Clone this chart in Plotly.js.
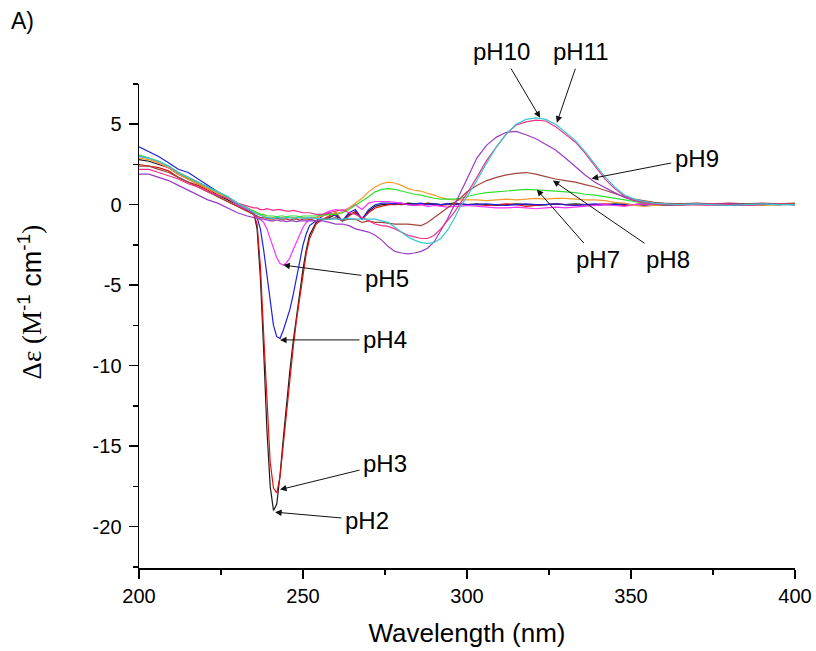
<!DOCTYPE html>
<html>
<head>
<meta charset="utf-8">
<script src="https://cdn.plot.ly/plotly-3.0.1.min.js"></script>
<style>html,body{margin:0;padding:0;background:#fff;}#chart{width:816px;height:651px;}</style>
</head>
<body>
<div id="chart"></div>
<script>
// Wavelength grid (nm)
const wavelength = [200,203,206,209,212,215,218,221,224,227,230,233,
  235,236,237,238,239,240,241,242,243,244,245,246,247,248,249,250,251,252,
  254,256,258,260,262,264,266,268,270,272,274,276,278,280,282,284,286,288,290,292,294,296,298,300,
  303,306,309,312,315,318,321,324,327,330,333,336,339,342,345,348,351,354,357,360,
  365,370,375,380,385,390,395,400];

const pH2 = [2.8,2.7,2.5,2.3,1.9,1.6,1.3,1.0,0.6,0.3,0.0,-0.3,
  -0.5,-1.5,-4.5,-9.0,-14.0,-17.5,-19.0,-18.6,-16.8,-14.5,-12.3,-10.3,-8.5,-6.9,-5.4,-4.0,-2.8,-1.9,
  -1.1,-0.9,-0.8,-0.6,-1.0,-0.6,-0.5,-0.9,-0.4,-0.1,0.0,0.0,0.05,0.0,0.1,0.05,0.0,0.1,0.05,0.0,0.05,0.1,0.05,0.0,
  0.05,0.0,-0.05,0.0,0.05,0.0,-0.05,0.0,0.05,0.0,0.05,0.0,-0.05,0.0,0.05,0.0,0.0,0.05,0.0,-0.05,
  0.0,0.05,0.0,-0.05,0.05,0.0,0.05,0.0];

const pH3 = [2.5,2.4,2.3,2.1,1.7,1.4,1.2,0.9,0.5,0.2,-0.1,-0.4,
  -0.6,-1.2,-3.8,-8.0,-12.5,-16.0,-17.6,-17.9,-16.9,-14.9,-12.7,-10.7,-8.9,-7.2,-5.7,-4.3,-3.0,-2.1,
  -1.2,-0.9,-0.7,-0.5,-1.0,-0.7,-0.4,-0.9,-0.5,-0.2,-0.1,0.0,0.0,0.05,0.0,-0.05,0.0,0.05,0.0,-0.05,0.0,0.05,0.0,0.0,
  0.0,-0.05,0.0,0.05,0.0,-0.1,-0.05,0.0,0.05,0.0,-0.05,0.0,0.0,0.05,0.0,-0.05,0.0,0.05,0.0,0.0,
  0.05,0.0,-0.05,0.0,0.0,0.05,0.0,0.05];

const pH4 = [3.6,3.3,3.0,2.6,2.2,2.0,1.6,1.2,0.8,0.5,0.1,-0.3,
  -0.6,-0.8,-1.5,-2.8,-4.4,-6.1,-7.5,-8.2,-8.3,-7.8,-7.2,-6.5,-5.6,-4.6,-3.5,-2.5,-1.8,-1.3,
  -1.0,-0.7,-0.5,-0.7,-1.0,-0.5,-0.3,-0.9,-0.3,0.0,0.1,0.1,0.05,0.1,0.0,0.05,0.1,0.0,0.05,0.0,0.05,0.0,0.05,0.0,
  0.0,0.05,0.0,-0.05,0.0,0.05,0.0,0.0,0.05,0.0,-0.05,0.0,0.05,0.0,0.0,0.05,0.0,-0.05,0.0,0.05,
  0.0,0.05,0.0,0.0,-0.05,0.0,0.05,0.0];

const pH5 = [3.0,2.9,2.6,2.3,2.0,1.7,1.4,1.1,0.7,0.4,0.0,-0.3,
  -0.6,-0.8,-0.9,-1.1,-1.5,-2.1,-2.7,-3.3,-3.65,-3.75,-3.6,-3.3,-2.8,-2.3,-1.8,-1.4,-1.1,-0.9,
  -0.8,-0.6,-0.4,-0.3,-0.4,-0.2,0.0,-0.3,0.1,0.2,0.2,0.2,0.15,0.1,0.0,-0.05,0.0,-0.1,-0.05,-0.1,-0.15,-0.1,-0.1,-0.05,
  -0.1,-0.15,-0.2,-0.2,-0.15,-0.2,-0.25,-0.2,-0.15,-0.2,-0.15,-0.1,-0.05,0.0,-0.05,-0.1,0.0,0.05,0.0,0.0,
  0.05,0.0,-0.05,0.0,0.05,0.0,0.0,0.05];

const pH6 = [2.9,2.8,2.6,2.3,1.9,1.6,1.3,1.0,0.7,0.4,0.1,-0.2,
  -0.4,-0.5,-0.6,-0.7,-0.8,-0.8,-0.8,-0.85,-0.8,-0.8,-0.85,-0.8,-0.8,-0.85,-0.8,-0.8,-0.8,-0.8,
  -0.8,-0.7,-0.6,-0.5,-0.5,-0.2,0.1,0.4,0.8,1.1,1.3,1.4,1.35,1.2,1.0,0.9,0.85,0.7,0.6,0.45,0.35,0.3,0.3,0.3,
  0.3,0.25,0.3,0.35,0.3,0.35,0.4,0.35,0.4,0.4,0.35,0.3,0.3,0.25,0.15,0.1,-0.05,-0.1,-0.05,0.0,
  0.05,0.0,0.0,0.05,0.0,-0.05,0.0,0.05];

const pH7 = [3.1,2.9,2.7,2.4,2.0,1.7,1.4,1.1,0.8,0.5,0.1,-0.2,
  -0.4,-0.5,-0.6,-0.6,-0.7,-0.7,-0.7,-0.75,-0.7,-0.7,-0.75,-0.7,-0.7,-0.7,-0.75,-0.7,-0.7,-0.7,
  -0.7,-0.65,-0.6,-0.6,-0.5,-0.3,-0.05,0.2,0.5,0.8,0.95,1.0,0.95,0.85,0.75,0.65,0.6,0.5,0.4,0.35,0.35,0.35,0.4,0.5,
  0.65,0.75,0.8,0.85,0.9,0.95,0.92,0.9,0.85,0.8,0.75,0.65,0.6,0.5,0.4,0.3,0.2,0.1,0.05,0.0,
  0.0,0.05,0.0,0.0,0.05,0.0,0.0,0.05];

const pH8 = [2.4,2.4,2.2,2.0,1.7,1.4,1.1,0.8,0.5,0.2,-0.1,-0.4,
  -0.6,-0.7,-0.8,-0.8,-0.85,-0.9,-0.9,-0.85,-0.9,-0.9,-0.9,-0.95,-0.9,-0.9,-0.95,-0.9,-0.9,-0.9,
  -1.0,-0.9,-0.9,-0.8,-1.0,-0.9,-0.9,-1.1,-1.0,-1.1,-1.1,-1.15,-1.2,-1.2,-1.2,-1.25,-1.3,-1.1,-0.8,-0.5,-0.2,0.1,0.4,0.8,
  1.2,1.5,1.7,1.85,1.95,2.0,1.9,1.75,1.6,1.5,1.4,1.25,1.1,0.9,0.7,0.5,0.35,0.25,0.15,0.1,
  0.05,0.1,0.05,0.1,0.05,0.1,0.05,0.1];

const pH9 = [1.9,1.9,1.7,1.5,1.2,0.9,0.6,0.3,0.1,-0.2,-0.5,-0.7,
  -0.8,-0.85,-0.9,-0.9,-0.95,-1.0,-1.0,-0.95,-1.0,-1.0,-1.05,-1.0,-1.0,-1.05,-1.0,-1.0,-1.0,-1.0,
  -1.0,-1.0,-1.1,-1.2,-1.2,-1.3,-1.5,-1.6,-1.7,-1.9,-2.2,-2.6,-2.9,-3.0,-3.05,-3.0,-2.9,-2.7,-2.3,-1.6,-0.9,-0.1,0.7,1.6,
  2.9,3.7,4.2,4.5,4.55,4.35,4.1,3.75,3.4,2.9,2.35,1.85,1.4,1.05,0.75,0.45,0.25,0.15,0.05,0.0,
  0.0,0.05,0.0,0.05,0.0,0.05,0.0,0.0];

const pH10 = [2.2,2.2,2.0,1.8,1.6,1.3,1.1,0.8,0.6,0.4,0.1,-0.1,
  -0.2,-0.2,-0.3,-0.3,-0.25,-0.3,-0.35,-0.3,-0.3,-0.35,-0.4,-0.4,-0.35,-0.4,-0.45,-0.5,-0.5,-0.5,
  -0.6,-0.6,-0.5,-0.4,-0.3,-0.5,-0.6,-0.8,-1.0,-1.2,-1.3,-1.35,-1.5,-1.7,-1.9,-2.0,-2.1,-2.1,-1.9,-1.5,-1.0,-0.5,0.1,0.7,
  1.7,2.75,3.6,4.4,4.95,5.15,5.25,5.2,4.85,4.4,3.9,3.2,2.4,1.6,1.0,0.55,0.3,0.15,0.05,0.0,
  -0.05,0.0,0.05,0.0,-0.05,0.0,0.05,0.0];

const pH11 = [3.0,2.9,2.7,2.4,2.0,1.7,1.4,1.1,0.8,0.5,0.1,-0.2,
  -0.5,-0.6,-0.7,-0.75,-0.8,-0.8,-0.85,-0.8,-0.8,-0.85,-0.8,-0.8,-0.85,-0.8,-0.8,-0.85,-0.8,-0.8,
  -0.85,-0.9,-0.9,-0.9,-0.9,-0.85,-0.9,-0.9,-0.9,-0.9,-1.0,-1.1,-1.4,-1.7,-2.0,-2.2,-2.35,-2.4,-2.35,-2.1,-1.6,-0.9,-0.1,0.5,
  1.5,2.6,3.6,4.4,5.0,5.3,5.4,5.3,5.0,4.5,4.0,3.3,2.5,1.75,1.1,0.6,0.35,0.2,0.1,0.05,
  0.0,0.05,0.0,-0.05,0.0,0.05,0.0,0.0];

const seriesNames = ['pH2','pH3','pH4','pH5','pH6','pH7','pH8','pH9','pH10','pH11'];
const seriesValues = [pH2,pH3,pH4,pH5,pH6,pH7,pH8,pH9,pH10,pH11];
const seriesColors = ['#1a1a1a','#e01010','#2020e0','#ff30ff','#f59a2a','#30dd30','#a0463c','#9a3cc0','#f0308a','#35c8d0'];

// y tick labels (plain hyphen minus as in the original)
const yTickVals = [-20,-15,-10,-5,0,5];
const yTickText = ['-20','-15','-10','-5','0','5'];

// label text, arrow tip (x,y), label position (ax,ay) in data units
const labelTexts = ['pH2','pH3','pH4','pH5','pH7','pH8','pH9','pH10','pH11'];
const tipX = [241.5,243,243,244,321.3,326.2,338,322.3,327.4];
const tipY = [-19.1,-17.7,-8.4,-3.75,0.94,1.5,1.63,5.4,5.1];
const labelX = [269.5,275,275,275.6,340,361.3,370,310.4,334.8];
const labelY = [-19.6,-16.1,-8.4,-4.6,-3.4,-3.4,2.9,9.5,9.5];

const traces = seriesNames.map((n,i)=>({
  type:'scatter', mode:'lines', name:n,
  x: wavelength, y: seriesValues[i],
  line:{color:seriesColors[i], width:1.2},
  hoverinfo:'skip'
}));

const font = 'Liberation Sans, Arial, sans-serif';
const annotations = labelTexts.map((t,i)=>({
  x: tipX[i], y: tipY[i], xref:'x', yref:'y',
  ax: labelX[i], ay: labelY[i], axref:'x', ayref:'y',
  text: t, showarrow:true, arrowhead:2, arrowsize:1.3, arrowwidth:1, arrowcolor:'#111',
  standoff:0, startstandoff:2,
  font:{family:font, size:24, color:'#000'}
}));
annotations.push({
  xref:'paper', yref:'paper', x:-0.166, y:0.549, xanchor:'center', yanchor:'middle',
  textangle:-90, showarrow:false,
  text:'<span style="font-family:Liberation Serif">Δε (M</span><sup>-1</sup> cm<sup>-1</sup><span style="font-family:Liberation Serif">)</span>',
  font:{family:font, size:27, color:'#000'}
});
annotations.push({
  xref:'paper', yref:'paper', x:-0.198, y:1.13, xanchor:'left', yanchor:'middle',
  showarrow:false, text:'A)', font:{family:font, size:23, color:'#000'}
});

const layout = {
  width:816, height:651,
  margin:{l:139, r:21, t:84, b:83},
  paper_bgcolor:'#fff', plot_bgcolor:'#fff',
  showlegend:false,
  font:{family:font, color:'#000'},
  xaxis:{
    range:[200,400], dtick:50, tick0:200,
    showline:true, linecolor:'#000', linewidth:1.5, mirror:false,
    ticks:'outside', ticklen:9, tickwidth:1.5, tickcolor:'#000',
    minor:{ticks:'outside', ticklen:5, tickwidth:1.5, tickcolor:'#000', dtick:25, showgrid:false},
    showgrid:false, zeroline:false,
    tickfont:{family:font, size:20, color:'#000'},
    title:{text:'Wavelength (nm)', font:{family:font, size:26, color:'#000'}, standoff:18}
  },
  yaxis:{
    range:[-22.57,7.5], tickmode:'array', tickvals:yTickVals, ticktext:yTickText,
    showline:true, linecolor:'#000', linewidth:1.5, mirror:false,
    ticks:'outside', ticklen:9, tickwidth:1.5, tickcolor:'#000',
    minor:{ticks:'outside', ticklen:5, tickwidth:1.5, tickcolor:'#000', tickmode:'linear', tick0:0, dtick:2.5, showgrid:false},
    showgrid:false, zeroline:false,
    ticklabelstandoff:3,
    tickfont:{family:font, size:20, color:'#000'}
  },
  annotations: annotations
};

Plotly.newPlot('chart', traces, layout, {displayModeBar:false, staticPlot:true});
</script>
</body>
</html>
